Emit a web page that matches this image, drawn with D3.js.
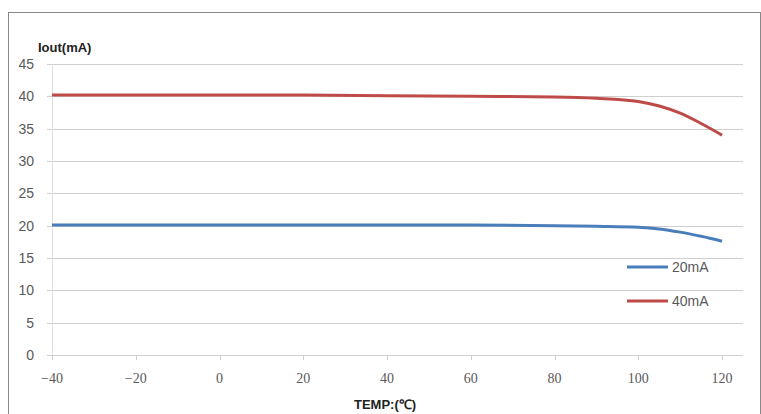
<!DOCTYPE html>
<html>
<head>
<meta charset="utf-8">
<script src="https://cdn.jsdelivr.net/npm/d3@7"></script>
<style>
  body { margin: 0; background: #fff; }
</style>
</head>
<body>
<svg width="761" height="414"></svg>
<script>
const temps = [-40, -20, 0, 20, 40, 60, 80, 90, 100, 105, 110, 115, 120];
const iout20 = [20.1, 20.1, 20.1, 20.1, 20.1, 20.1, 20.0, 19.9, 19.75, 19.5, 19.0, 18.35, 17.6];
const iout40 = [40.2, 40.2, 40.2, 40.2, 40.1, 40.0, 39.9, 39.7, 39.2, 38.5, 37.4, 35.8, 34.0];
const xTicks = [-40, -20, 0, 20, 40, 60, 80, 100, 120];
const yTicks = [0, 5, 10, 15, 20, 25, 30, 35, 40, 45];
const seriesNames = ["20mA", "40mA"];
const colors = ["#4a7ebb", "#be4b48"];

const svg = d3.select("svg");

// outer frame
svg.append("rect")
  .attr("x", 8.5).attr("y", 12.5)
  .attr("width", 752).attr("height", 410)
  .attr("fill", "none").attr("stroke", "#888");

const x = d3.scaleLinear().domain([-40, 125]).range([52, 743]);
const y = d3.scaleLinear().domain([0, 45]).range([355, 64]);

// gridlines
svg.append("g")
  .selectAll("line")
  .data(yTicks)
  .join("line")
  .attr("x1", 47).attr("x2", 743)
  .attr("y1", d => Math.round(y(d)) + 0.5)
  .attr("y2", d => Math.round(y(d)) + 0.5)
  .attr("stroke", "#cfcfcf");

// y axis line
svg.append("line")
  .attr("x1", 52.5).attr("x2", 52.5)
  .attr("y1", y(45)).attr("y2", y(0))
  .attr("stroke", "#e0e0e0");

// x tick marks
svg.append("g")
  .selectAll("line")
  .data(xTicks)
  .join("line")
  .attr("x1", d => Math.round(x(d)) + 0.5)
  .attr("x2", d => Math.round(x(d)) + 0.5)
  .attr("y1", y(0)).attr("y2", y(0) + 5)
  .attr("stroke", "#cfcfcf");

// y labels
svg.append("g")
  .selectAll("text")
  .data(yTicks)
  .join("text")
  .attr("x", 34)
  .attr("y", d => y(d) + 5)
  .attr("text-anchor", "end")
  .attr("font-family", "Liberation Sans, Arial, sans-serif")
  .attr("font-size", 14)
  .attr("fill", "#595959")
  .text(d => d);

// x labels
svg.append("g")
  .selectAll("text")
  .data(xTicks)
  .join("text")
  .attr("x", d => x(d))
  .attr("y", 383)
  .attr("text-anchor", "middle")
  .attr("font-family", "Liberation Serif, serif")
  .attr("font-size", 14)
  .attr("fill", "#595959")
  .text(d => d < 0 ? "\u2212" + Math.abs(d) : d);

// axis titles
svg.append("text")
  .attr("x", 38).attr("y", 52)
  .attr("font-family", "Liberation Sans, Arial, sans-serif")
  .attr("font-size", 13).attr("font-weight", "bold")
  .attr("fill", "#222")
  .text("Iout(mA)");

svg.append("text")
  .attr("x", 385).attr("y", 409)
  .attr("text-anchor", "middle")
  .attr("font-family", "Liberation Sans, Arial, sans-serif")
  .attr("font-size", 13).attr("font-weight", "bold")
  .attr("fill", "#222")
  .text("TEMP:(\u2103)");

// lines
const line = d3.line()
  .x(d => x(d[0]))
  .y(d => y(d[1]))
  .curve(d3.curveMonotoneX);

[iout20, iout40].forEach((vals, i) => {
  svg.append("path")
    .datum(temps.map((t, j) => [t, vals[j]]))
    .attr("d", line)
    .attr("fill", "none")
    .attr("stroke", colors[i])
    .attr("stroke-width", 3);
});

// legend
const legend = svg.append("g");
seriesNames.forEach((name, i) => {
  const ly = 267 + i * 34;
  legend.append("line")
    .attr("x1", 627).attr("x2", 668)
    .attr("y1", ly).attr("y2", ly)
    .attr("stroke", colors[i]).attr("stroke-width", 3);
  legend.append("text")
    .attr("x", 672).attr("y", ly + 5)
    .attr("font-family", "Liberation Sans, Arial, sans-serif")
    .attr("font-size", 14)
    .attr("fill", "#595959")
    .text(name);
});
</script>
</body>
</html>
